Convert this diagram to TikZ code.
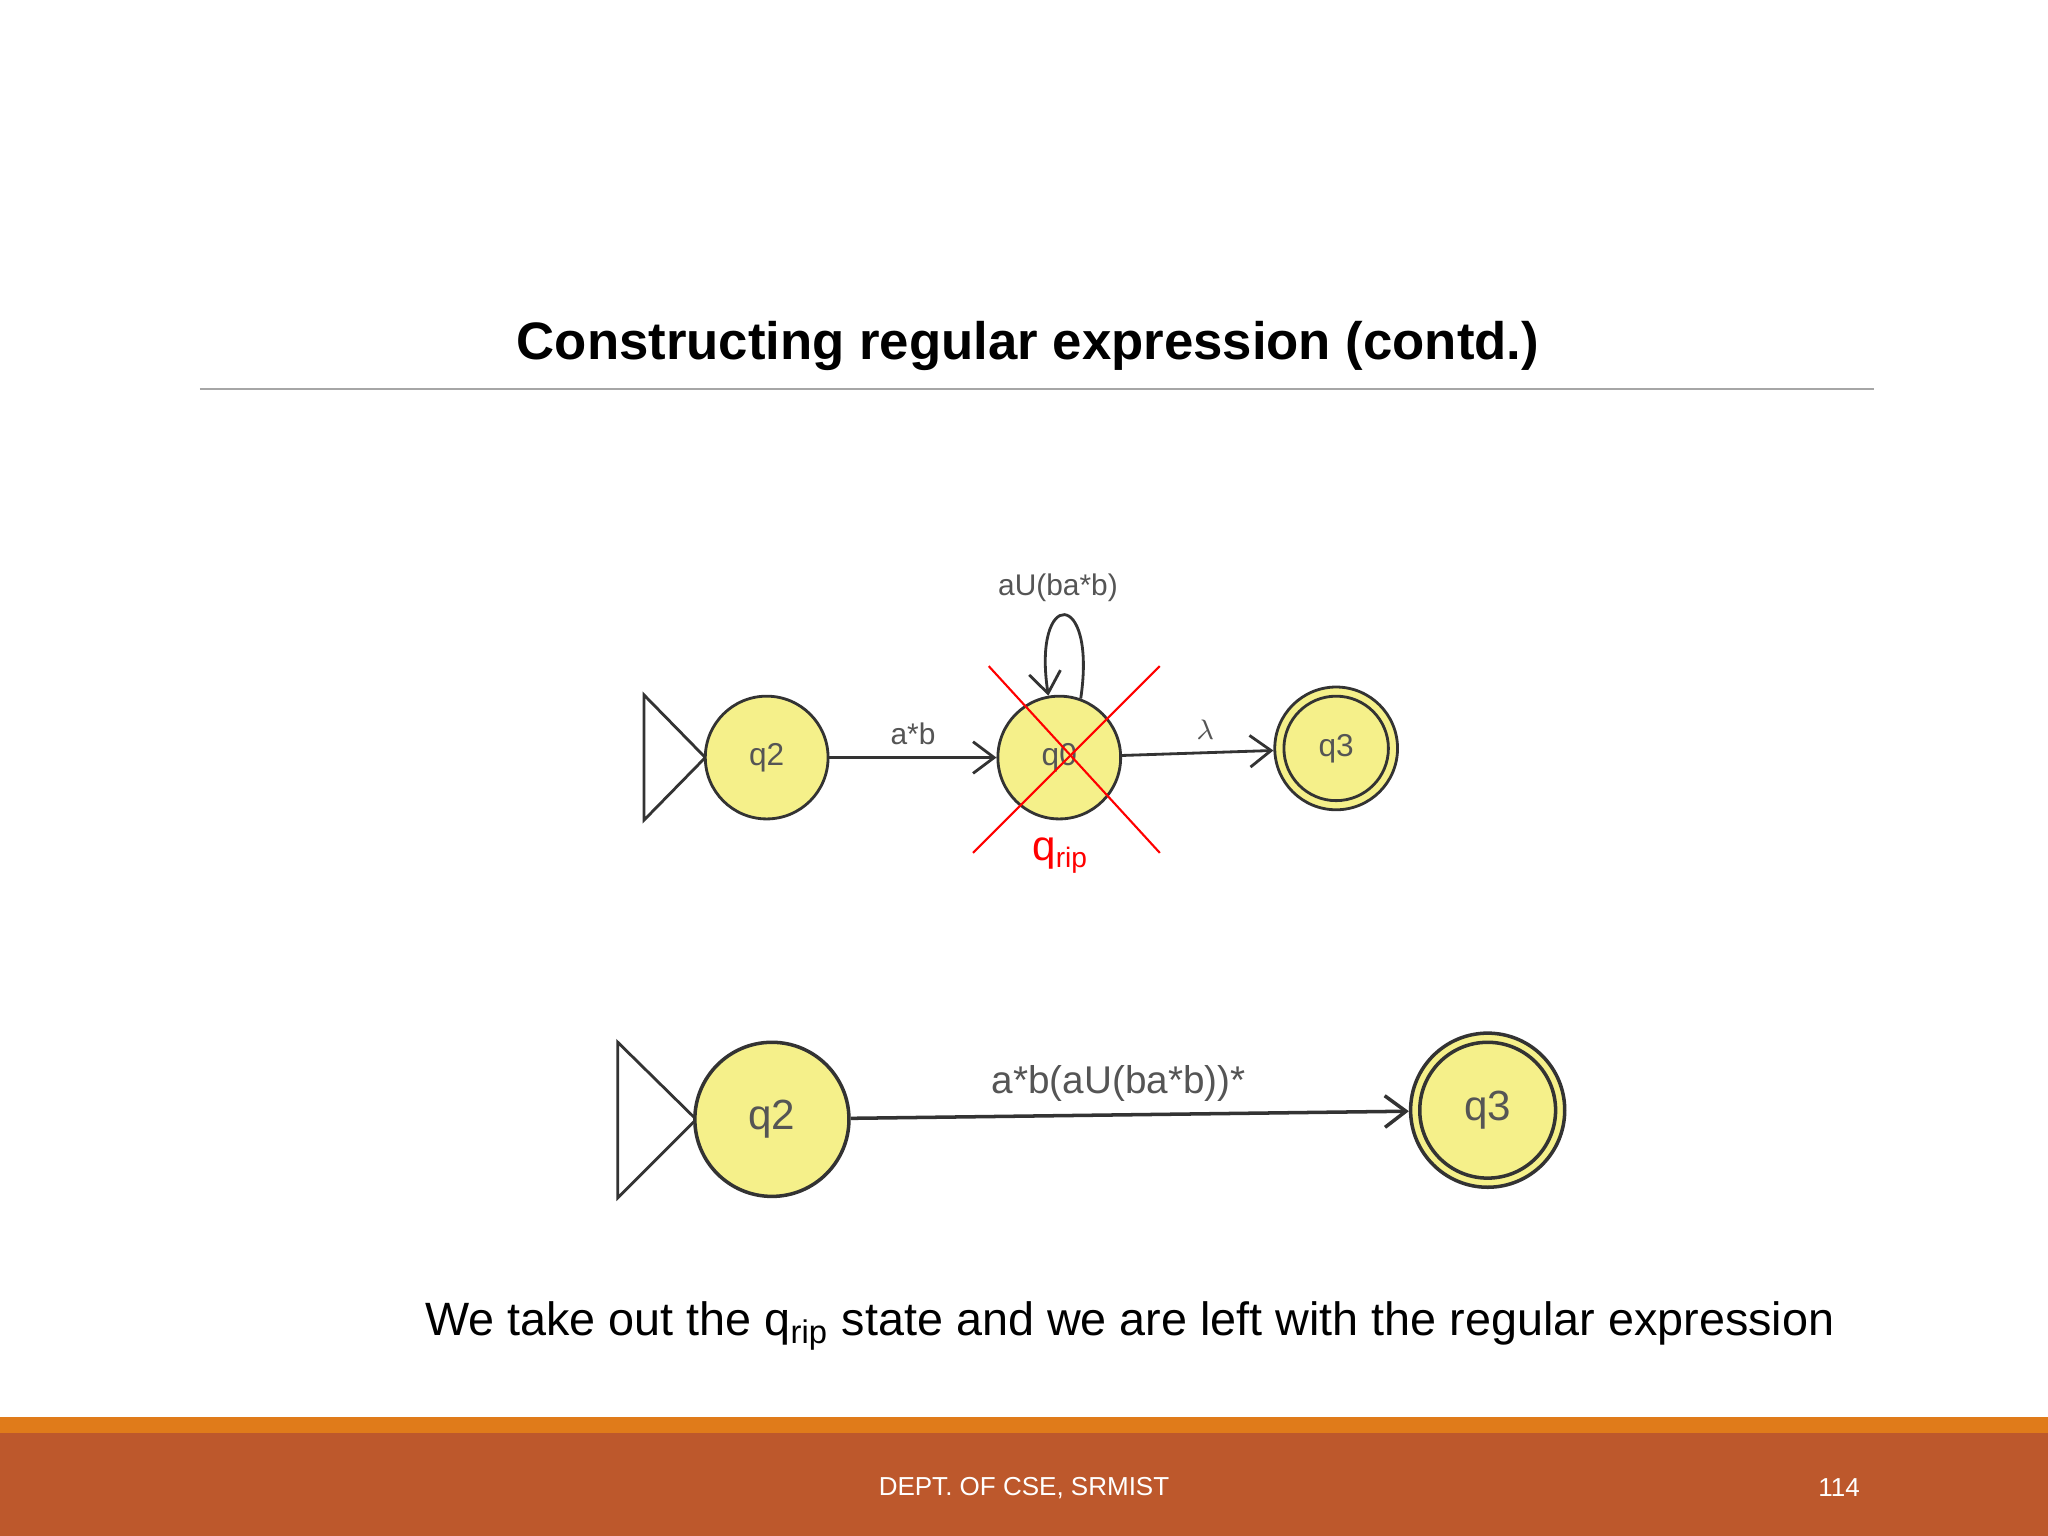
\documentclass[tikz,border=0pt]{standalone}
\usepackage{fontspec}
\setmainfont{Liberation Sans}
\usetikzlibrary{arrows.meta}
\definecolor{stfill}{HTML}{F5F08A}
\definecolor{stline}{HTML}{333333}
\definecolor{rust}{HTML}{BD582C}
\definecolor{orng}{HTML}{E07B1A}
\definecolor{lbl}{HTML}{555555}
\tikzset{
  st/.style={circle,draw=stline,fill=stfill,line width=0.8pt,inner sep=0pt,text=lbl},
  tr/.style={-{Straight Barb[length=6pt,width=9pt]},draw=stline,line width=0.8pt},
  el/.style={text=lbl,font=\fontsize{8.5}{10}\selectfont},
  startt/.style={draw=stline,line width=0.8pt,fill=white}
}
\begin{document}
\begin{tikzpicture}[x=0.013061cm,y=-0.013061cm]
\useasboundingbox (0,0) rectangle (1568,1176);
\fill[white] (0,0) rectangle (1568,1176);
% title
\node[font=\bfseries\fontsize{15}{18}\selectfont] (title) at (787,265) {Constructing regular expression (contd.)};
\draw[gray!70,line width=0.5pt] (153,298) -- (1435,298);
% top diagram
\draw[startt] (493,532) -- (540,580) -- (493,628) -- cycle;
\node[st,minimum size=94*0.013061cm,font=\fontsize{9}{10}\selectfont] (a2) at (587,580) {q2};
\node[st,minimum size=94*0.013061cm,font=\fontsize{9}{10}\selectfont] (a0) at (811,580) {q0};
\node[st,minimum size=94*0.013061cm,font=\fontsize{9}{10}\selectfont] (a3) at (1023,573) {};
\node[circle,draw=stline,line width=0.8pt,minimum size=80*0.013061cm,text=lbl,font=\fontsize{9}{10}\selectfont] (a3i) at (1023,573) {q3};
\draw[tr] (a2) -- node[el,above] {a*b} (a0);
\draw[tr] (a0) -- node[el,above,pos=0.55] {$\lambda$} (a3);
\draw[tr] (a0.70) .. controls (840,450) and (790,450) .. (a0.100);
\node[el] (loopl) at (810,450) {aU(ba*b)};
\draw[red,line width=0.6pt] (757,510) -- (888,653);
\draw[red,line width=0.6pt] (888,510) -- (745,653);
\node[red,font=\fontsize{12}{14}\selectfont] (qrip) at (812,655) {q\textsubscript{rip}};
% bottom diagram
\draw[startt] (473,798) -- (533,857) -- (473,917) -- cycle;
\node[st,minimum size=118*0.013061cm,line width=1pt,font=\fontsize{12}{14}\selectfont] (b2) at (591,857) {q2};
\node[st,minimum size=118*0.013061cm,line width=1pt] (b3) at (1139,850) {};
\node[circle,draw=stline,line width=1pt,minimum size=104*0.013061cm,text=lbl,font=\fontsize{12}{14}\selectfont] (b3i) at (1139,850) {q3};
\draw[tr,line width=1pt] (b2) -- node[el,above,font=\fontsize{11}{13}\selectfont,pos=0.48] {a*b(aU(ba*b))*} (b3);
% caption
\node[font=\fontsize{13.3}{16}\selectfont] (cap) at (865,1015) {We take out the q\textsubscript{rip} state and we are left with the regular expression};
% footer
\fill[orng] (0,1085) rectangle (1568,1098);
\fill[rust] (0,1097) rectangle (1568,1176);
\node[white,font=\fontsize{7.4}{9}\selectfont] (ft) at (784,1139) {DEPT. OF CSE, SRMIST};
\node[white,font=\fontsize{7.4}{9}\selectfont] (pg) at (1408,1139) {114};
\end{tikzpicture}
\end{document}
